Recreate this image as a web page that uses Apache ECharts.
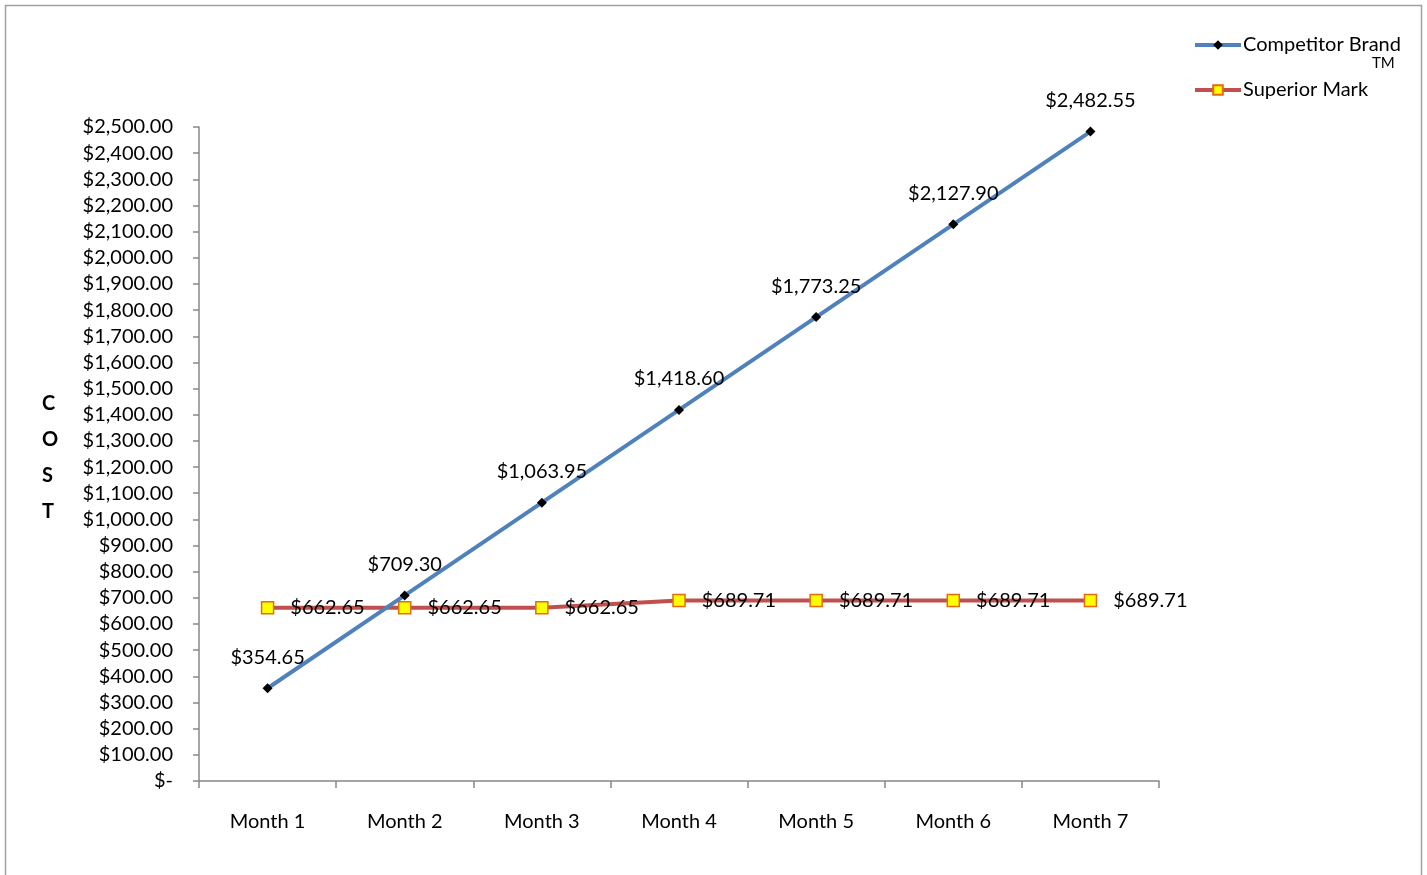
<!DOCTYPE html>
<html>
<head>
<meta charset="utf-8">
<script src="https://cdn.jsdelivr.net/npm/echarts@6/dist/echarts.min.js"></script>
<style>html,body{margin:0;padding:0;background:#fff;}#c{width:1427px;height:875px;}</style>
</head>
<body>
<div id="c"></div>
<script>
const categories = ['Month 1','Month 2','Month 3','Month 4','Month 5','Month 6','Month 7'];
const competitorValues = [354.65, 709.30, 1063.95, 1418.60, 1773.25, 2127.90, 2482.55];
const superiorValues = [662.65, 662.65, 662.65, 689.71, 689.71, 689.71, 689.71];
const seriesNames = ['Competitor Brand', 'Superior Mark'];

const FONT = 'Lato';
const nf = new Intl.NumberFormat('en-US', {minimumFractionDigits: 2, maximumFractionDigits: 2});
const money = v => v === 0 ? '$-' : '$' + nf.format(v);

const chart = echarts.init(document.getElementById('c'));
chart.setOption({
  animation: false,
  backgroundColor: '#fff',
  textStyle: {fontFamily: FONT},
  grid: {left: 199, right: 268, top: 127, bottom: 94},
  legend: {
    orient: 'vertical', left: 1188, top: 30, itemWidth: 46, itemHeight: 12, itemGap: 25,
    textStyle: {fontFamily: FONT, fontSize: 20, color: '#000', padding: [0, 0, 0, -3]},
    data: [
      {name: seriesNames[0], lineStyle: {width: 4}},
      {name: seriesNames[1], lineStyle: {width: 4}}
    ]
  },
  xAxis: {
    type: 'category', data: categories, boundaryGap: true,
    axisLine: {lineStyle: {color: '#888', width: 1.5}},
    axisTick: {show: true, length: 7, lineStyle: {color: '#888', width: 1.5}},
    axisLabel: {fontSize: 20, color: '#000', margin: 31, fontFamily: FONT}
  },
  yAxis: {
    type: 'value', min: 0, max: 2500, interval: 100,
    splitLine: {show: false},
    axisLine: {show: true, lineStyle: {color: '#888', width: 1.5}},
    axisTick: {show: true, length: 6, lineStyle: {color: '#888', width: 1.5}},
    axisLabel: {fontSize: 20, color: '#000', margin: 26, fontFamily: FONT, formatter: money}
  },
  series: [
    {
      name: seriesNames[0], type: 'line', data: competitorValues,
      color: '#4F81BD',
      lineStyle: {color: '#4F81BD', width: 4},
      symbol: 'diamond', symbolSize: 10,
      itemStyle: {color: '#000'},
      label: {show: true, position: 'top', distance: 16, fontSize: 20, color: '#000', fontFamily: FONT, formatter: p => money(p.value)},
      z: 3
    },
    {
      name: seriesNames[1], type: 'line', data: superiorValues,
      color: '#C0504D',
      lineStyle: {color: '#C0504D', width: 4},
      symbol: 'rect', symbolSize: 12,
      itemStyle: {color: '#FFFF00', borderColor: '#E46C0A', borderWidth: 1.5},
      label: {show: true, position: 'right', distance: 16, fontSize: 20, color: '#000', fontFamily: FONT, formatter: p => money(p.value)},
      z: 2
    }
  ],
  graphic: [
    {type: 'rect', shape: {x: 5.5, y: 5.5, width: 1416, height: 900}, style: {fill: 'none', stroke: '#a0a0a0', lineWidth: 1.5}, silent: true},
    {type: 'text', left: 1372, top: 56, style: {text: 'TM', fontSize: 15, fontFamily: FONT, fill: '#000'}},
    {type: 'text', left: 42, top: 386, style: {text: 'C\nO\nS\nT', fontSize: 20, fontWeight: 'bold', fontFamily: FONT, fill: '#000', lineHeight: 36, align: 'center'}}
  ]
});
</script>
</body>
</html>
